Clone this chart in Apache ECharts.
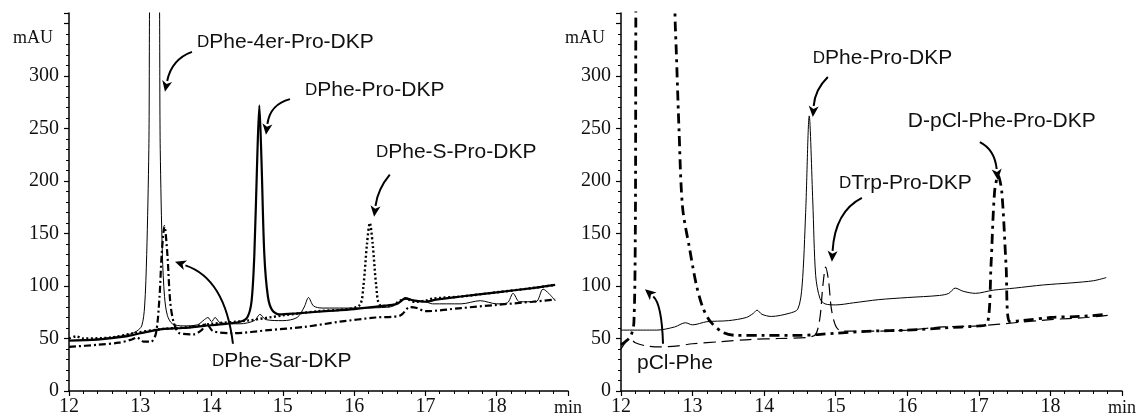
<!DOCTYPE html>
<html>
<head>
<meta charset="utf-8">
<script src="https://cdn.jsdelivr.net/npm/echarts@6/dist/echarts.min.js"></script>
<style>
  html, body { margin: 0; padding: 0; background: #fff; }
  #main { width: 1141px; height: 417px; }
</style>
</head>
<body>
<div id="main"></div>
<script>
// left chromatogram: [min, mAU]
const leftThin = [[12,48],[12.3,49],[12.6,51],[12.85,54],[12.95,57],[13.02,62],[13.06,80],[13.09,130],[13.12,230],[13.15,420],[13.25,420],[13.28,230],[13.31,130],[13.34,90],[13.38,72],[13.45,64],[13.6,62],[13.8,63],[13.9,68],[13.95,70],[14.0,66],[14.05,70],[14.12,65],[14.4,64],[14.6,67],[14.68,73],[14.76,68],[15.0,67],[15.2,70],[15.3,80],[15.36,89],[15.43,81],[15.55,79],[16.0,79],[16.5,80],[16.62,84],[16.72,89],[16.85,86],[17.0,85],[17.1,83],[17.5,83],[17.77,86],[18.0,83],[18.15,84],[18.23,93],[18.32,85],[18.55,85],[18.65,97],[18.73,93],[18.82,86]];
const leftPro = [[12,48],[12.4,49],[12.8,52],[13.0,55],[13.3,59],[13.6,60],[13.9,62],[14.2,64],[14.4,66],[14.5,70],[14.56,85],[14.6,130],[14.64,220],[14.67,272],[14.7,220],[14.74,130],[14.79,90],[14.85,77],[14.95,73],[15.2,74],[15.6,76],[16.0,78],[16.4,81],[16.6,83],[16.72,88],[16.85,86],[17.0,85],[17.15,87],[17.5,90],[18.0,94],[18.5,98],[18.82,101]];
const leftSPro = [[12,50],[12.1,52],[12.2,50],[12.6,51],[12.9,55],[13.3,59],[13.7,61],[14.0,64],[14.5,67],[15.0,72],[15.5,76],[15.9,78],[16.08,82],[16.13,100],[16.18,140],[16.22,160],[16.26,140],[16.31,100],[16.36,82],[16.5,81],[16.72,88],[16.85,85],[17.0,86],[17.1,88],[17.5,90],[18.0,94],[18.5,98],[18.82,101]];
const leftSar = [[12,42],[12.4,44],[12.7,46],[12.88,49],[12.95,51],[13.05,47],[13.15,47],[13.22,55],[13.27,90],[13.3,130],[13.34,157],[13.38,130],[13.42,85],[13.47,65],[13.55,55],[13.75,54],[13.86,58],[13.93,64],[14.02,57],[14.3,55],[14.8,58],[15.3,61],[15.8,66],[16.3,70],[16.65,72],[16.78,80],[16.88,79],[17.0,76],[17.5,79],[18.0,82],[18.5,85],[18.82,87]];

// right chromatogram
const rightPro = [[12,58],[12.5,58],[12.75,61],[12.9,65],[13.0,63],[13.2,66],[13.5,67],[13.75,70],[13.85,74],[13.9,77],[13.97,73],[14.1,71],[14.35,74],[14.47,78],[14.53,100],[14.58,170],[14.63,262],[14.68,180],[14.72,110],[14.78,88],[14.85,83],[15.0,82],[15.25,84],[15.6,87],[16.0,89],[16.45,91],[16.58,93],[16.67,98],[16.78,95],[16.95,93],[17.2,96],[17.5,98],[17.9,101],[18.3,103],[18.6,105],[18.78,108]];
const rightTrp = [[12,40],[12.06,46],[12.12,50],[12.2,46],[12.35,43],[12.55,42],[12.8,43],[13.0,45],[13.4,47],[13.8,49],[14.2,50],[14.6,51],[14.72,54],[14.78,70],[14.82,100],[14.86,118],[14.9,105],[14.94,78],[15.0,62],[15.08,57],[15.5,57],[16.0,58],[16.5,61],[17.0,62],[17.5,65],[18.0,68],[18.5,70],[18.8,72]];
const rightPCl = [[12,44],[12.08,48],[12.14,53],[12.18,65],[12.2,150],[12.22,420],[12.7,420],[12.76,345],[12.81,250],[12.86,175],[12.96,135],[13.05,102],[13.14,80],[13.25,66],[13.42,56],[13.6,53],[14.0,53],[14.5,53],[15.0,55],[15.5,57],[16.0,58],[16.5,60],[17.0,62],[17.12,64],[17.17,120],[17.22,190],[17.27,205],[17.32,190],[17.38,120],[17.43,66],[17.6,67],[18.0,70],[18.4,71],[18.8,73]];

const xTicks = [12, 13, 14, 15, 16, 17, 18];
const yTicks = [0, 50, 100, 150, 200, 250, 300];

// labels: text + arrow (start, control, tip) in data units
const notes = [
  { grid: 0, text: 'DPhe-4er-Pro-DKP', small: true, at: [13.795, 332], from: [13.725, 323], cp: [13.44, 316], tip: [13.346, 285] },
  { grid: 0, text: 'DPhe-Pro-DKP', small: true, at: [15.31, 286], from: [15.1, 278], cp: [14.82, 273], tip: [14.763, 244] },
  { grid: 0, text: 'DPhe-S-Pro-DKP', small: true, at: [16.306, 227], from: [16.5, 206], cp: [16.33, 192], tip: [16.28, 166] },
  { grid: 0, text: 'DPhe-Sar-DKP', small: true, at: [14.006, 28], from: [14.3, 45], cp: [14.19, 107], tip: [13.487, 123] },
  { grid: 1, text: 'DPhe-Pro-DKP', small: true, at: [14.68, 317], from: [14.89, 299], cp: [14.71, 287], tip: [14.68, 261] },
  { grid: 1, text: 'D-pCl-Phe-Pro-DKP', small: false, at: [16.008, 257], from: [17.014, 237], cp: [17.22, 230], tip: [17.265, 201] },
  { grid: 1, text: 'DTrp-Pro-DKP', small: true, at: [15.045, 198], from: [15.366, 184], cp: [14.99, 171], tip: [14.947, 123] },
  { grid: 1, text: 'pCl-Phe', small: false, at: [12.223, 26], from: [12.587, 45], cp: [12.57, 83], tip: [12.335, 97] }
];

const chart = echarts.init(document.getElementById('main'));

function xAxis(gi) {
  return {
    gridIndex: gi, type: 'value', min: 12, max: 19, interval: 1,
    axisLine: { lineStyle: { color: '#000', width: 1.5 } },
    axisTick: { length: 5, lineStyle: { color: '#000', width: 1.2 } },
    minorTick: { show: true, splitNumber: 5, length: 3, lineStyle: { color: '#000', width: 1 } },
    splitLine: { show: false },
    axisLabel: {
      margin: 6, color: '#111', fontFamily: 'Liberation Serif', fontSize: 20,
      formatter: v => (xTicks.indexOf(v) >= 0 ? String(v) : '')
    }
  };
}
function yAxis(gi) {
  return {
    gridIndex: gi, type: 'value', min: 0, max: 360, interval: 50,
    axisLine: { show: true, lineStyle: { color: '#000', width: 1.5 } },
    axisTick: { show: true, length: 5, lineStyle: { color: '#000', width: 1.2 } },
    minorTick: { show: true, splitNumber: 5, length: 3, lineStyle: { color: '#000', width: 1 } },
    splitLine: { show: false },
    axisLabel: {
      margin: 10, color: '#111', fontFamily: 'Liberation Serif', fontSize: 20,
      formatter: v => (yTicks.indexOf(v) >= 0 ? String(v) : '')
    }
  };
}
function line(data, gi, width, type) {
  return {
    type: 'line', data: data, xAxisIndex: gi, yAxisIndex: gi,
    symbol: 'none', smooth: 0.3, clip: true,
    lineStyle: { color: '#000', width: width, type: type }
  };
}

chart.setOption({
  animation: false,
  grid: [
    { left: 69, right: 573, top: 13, bottom: 24 },
    { left: 621, right: 19, top: 13, bottom: 25 }
  ],
  xAxis: [xAxis(0), xAxis(1)],
  yAxis: [yAxis(0), yAxis(1)],
  series: [
    line(leftThin, 0, 1, 'solid'),
    line(leftPro, 0, 2.2, 'solid'),
    line(leftSPro, 0, 2.4, [2, 2.5]),
    line(leftSar, 0, 2.2, [7, 3, 2, 3]),
    line(rightPro, 1, 1, 'solid'),
    line(rightTrp, 1, 1.2, [12, 6]),
    line(rightPCl, 1, 2.8, [10, 5, 3, 5])
  ]
});

// annotations
const graphic = [];
const labelFont = '21px "Liberation Sans"';
notes.forEach(n => {
  const p = v => chart.convertToPixel({ gridIndex: n.grid }, v);
  const at = p(n.at), a = p(n.from), c = p(n.cp), t = p(n.tip);
  const txt = n.small ? '{s|D}{n|' + n.text.slice(1) + '}' : '{n|' + n.text + '}';
  graphic.push({
    type: 'text', silent: true,
    style: {
      text: txt, x: at[0], y: at[1], verticalAlign: 'middle', fill: '#111',
      rich: {
        s: { fontFamily: 'Liberation Sans', fontSize: 17, fill: '#111' },
        n: { fontFamily: 'Liberation Sans', fontSize: 21, fill: '#111' }
      }
    }
  });
  // arrow body ends at base of head
  const dx = t[0] - c[0], dy = t[1] - c[1];
  const len = Math.sqrt(dx * dx + dy * dy);
  const ux = dx / len, uy = dy / len;
  const hl = 11, hw = 5;
  const bx = t[0] - ux * hl, by = t[1] - uy * hl;
  graphic.push({
    type: 'bezierCurve', silent: true,
    shape: { x1: a[0], y1: a[1], cpx1: c[0], cpy1: c[1], x2: bx, y2: by },
    style: { stroke: '#000', lineWidth: 2, fill: null }
  });
  graphic.push({
    type: 'polygon', silent: true,
    shape: { points: [[t[0], t[1]], [bx - uy * hw, by + ux * hw], [bx + ux * 3, by + uy * 3], [bx + uy * hw, by - ux * hw]] },
    style: { fill: '#000' }
  });
});

// axis unit labels
[0, 1].forEach(gi => {
  const o = chart.convertToPixel({ gridIndex: gi }, [12, 0]);
  const e = chart.convertToPixel({ gridIndex: gi }, [19, 0]);
  const top = chart.convertToPixel({ gridIndex: gi }, [12, 336]);
  graphic.push({
    type: 'text', silent: true,
    style: { text: 'mAU', x: o[0] - 16, y: top[1], align: 'right', verticalAlign: 'middle',
      font: '18px "Liberation Serif"', fill: '#111' }
  });
  graphic.push({
    type: 'text', silent: true,
    style: { text: 'min', x: e[0] - 14, y: o[1] + 17, align: 'left', verticalAlign: 'middle',
      font: '18px "Liberation Serif"', fill: '#111' }
  });
});

chart.setOption({ graphic: graphic });
</script>
</body>
</html>
